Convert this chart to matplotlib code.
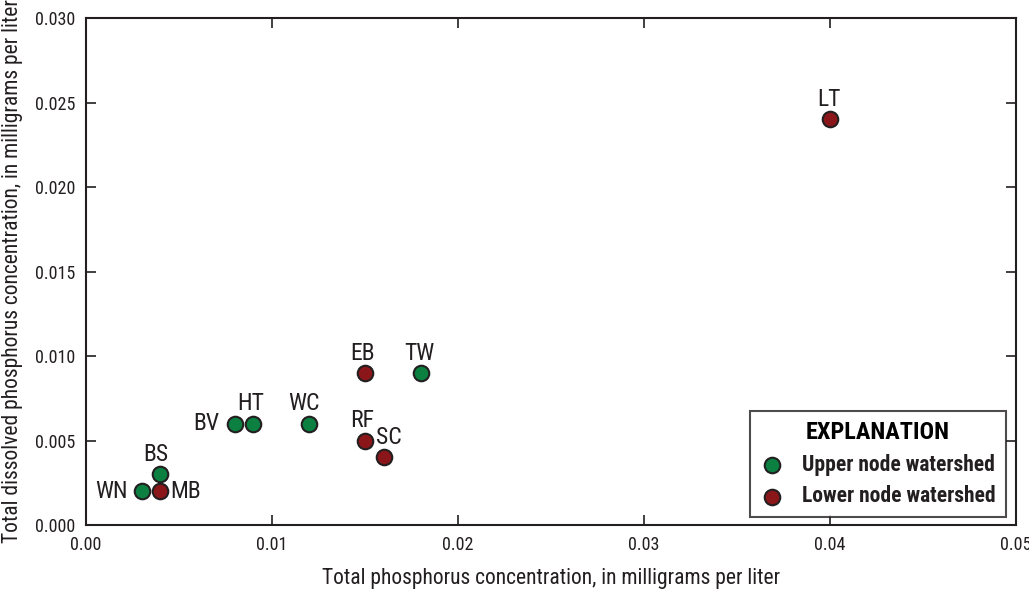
import matplotlib.pyplot as plt

plt.rcParams['font.family'] = ['Roboto Condensed', 'Archivo Narrow', 'DejaVu Sans']

# site data: total phosphorus vs total dissolved phosphorus (mg/L)
sites = ['WN', 'BS', 'MB', 'BV', 'HT', 'WC', 'EB', 'TW', 'RF', 'SC', 'LT']
tp = [0.003, 0.004, 0.004, 0.008, 0.009, 0.012, 0.015, 0.018, 0.015, 0.016, 0.040]
tdp = [0.002, 0.003, 0.002, 0.006, 0.006, 0.006, 0.009, 0.009, 0.005, 0.004, 0.024]
node = ['upper', 'upper', 'lower', 'upper', 'upper', 'upper', 'lower', 'upper', 'lower', 'lower', 'lower']

colors = {'upper': '#0b8040', 'lower': '#8a1619'}
names = {'upper': 'Upper node watershed', 'lower': 'Lower node watershed'}

# where each site label sits relative to its marker (points)
label_pos = {
    'WN': ((-10, 0), 'right', 'center'),
    'MB': ((7, 0), 'left', 'center'),
    'BS': ((-3, 6), 'center', 'bottom'),
    'BV': ((-11, 0), 'right', 'center'),
    'HT': ((-2, 6), 'center', 'bottom'),
    'WC': ((-4, 6), 'center', 'bottom'),
    'EB': ((-2, 6), 'center', 'bottom'),
    'TW': ((-1, 6), 'center', 'bottom'),
    'RF': ((-2, 6), 'center', 'bottom'),
    'SC': ((4, 6), 'center', 'bottom'),
    'LT': ((-1, 6), 'center', 'bottom'),
}

fig = plt.figure(figsize=(10.29, 5.9), dpi=100)
ax = fig.add_axes([0.0836, 0.110, 0.9038, 0.8595])

for grp in ['upper', 'lower']:
    xs = [x for x, g in zip(tp, node) if g == grp]
    ys = [y for y, g in zip(tdp, node) if g == grp]
    ax.scatter(xs, ys, s=125, c=colors[grp], edgecolors='#231f20',
               linewidths=1.5, zorder=3, label=names[grp])

for s, x, y in zip(sites, tp, tdp):
    off, ha, va = label_pos[s]
    ax.annotate(s, (x, y), xytext=off, textcoords='offset points',
                ha=ha, va=va, fontsize=17, color='#231f20')

ax.set_xlim(0, 0.05)
ax.set_ylim(0, 0.030)
ax.set_xticks([0.00, 0.01, 0.02, 0.03, 0.04, 0.05])
ax.set_xticklabels(['0.00', '0.01', '0.02', '0.03', '0.04', '0.05'])
ax.set_yticks([0.000, 0.005, 0.010, 0.015, 0.020, 0.025, 0.030])
ax.set_yticklabels(['0.000', '0.005', '0.010', '0.015', '0.020', '0.025', '0.030'])
ax.tick_params(direction='in', length=7, width=1.2, labelsize=13,
               top=True, right=True, pad=8, colors='#231f20')
for sp in ax.spines.values():
    sp.set_linewidth(1.5)
    sp.set_color('#231f20')

ax.set_xlabel('Total phosphorus concentration, in milligrams per liter',
              fontsize=15.5, color='#231f20', labelpad=10)
ax.set_ylabel('Total dissolved phosphorus concentration, in milligrams per liter',
              fontsize=15.5, color='#231f20', labelpad=8)

leg = ax.legend(loc='lower right', title='EXPLANATION', frameon=True,
                fancybox=False, edgecolor='#231f20', borderpad=0.45,
                handlelength=1.2, handletextpad=0.8, labelspacing=0.45,
                borderaxespad=0, bbox_to_anchor=(0.989, 0.016),
                prop={'weight': 'bold', 'size': 15.5},
                title_fontproperties={'weight': 'bold', 'size': 17.5})
leg.get_frame().set_linewidth(1.5)
for t in leg.get_texts():
    t.set_color('#231f20')

fig.savefig('out.png', dpi=100)
